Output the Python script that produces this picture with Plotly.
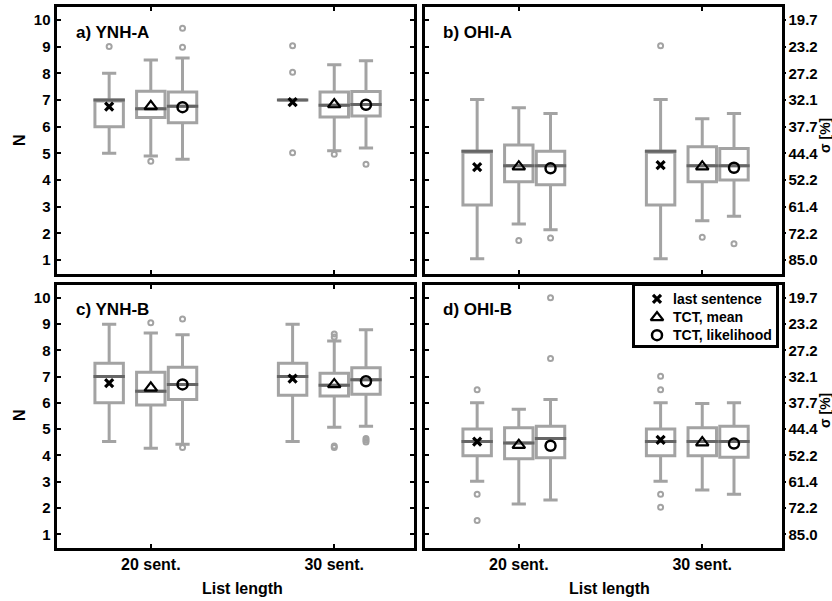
import plotly.graph_objects as go

# ---- data -------------------------------------------------------------
GROUPS = ["20 sent.", "30 sent."]
METHODS = ["last sentence", "TCT, mean", "TCT, likelihood"]
PANEL_TITLES = ["a) YNH-A", "b) OHI-A", "c) YNH-B", "d) OHI-B"]
N_TICKS = [1, 2, 3, 4, 5, 6, 7, 8, 9, 10]
SIGMA_LABELS = ["85.0", "72.2", "61.4", "52.2", "44.4",
                "37.7", "32.1", "27.2", "23.2", "19.7"]

# one row per panel; inside a row: 20 sent. (last, mean, lik), 30 sent. (last, mean, lik)
Q1 = [
    [6.00, 6.34, 6.15, 7.00, 6.36, 6.40],
    [3.07, 3.94, 3.82, 3.07, 3.94, 4.00],
    [6.00, 5.92, 6.13, 6.29, 6.26, 6.33],
    [3.99, 3.87, 3.91, 3.99, 3.99, 3.93],
]
MEDIAN = [
    [7.00, 6.67, 6.76, 7.00, 6.80, 6.83],
    [5.08, 4.54, 4.54, 5.08, 4.54, 4.54],
    [7.00, 6.44, 6.70, 7.00, 6.67, 6.88],
    [4.53, 4.47, 4.64, 4.53, 4.53, 4.53],
]
Q3 = [
    [7.00, 7.33, 7.30, 7.00, 7.30, 7.32],
    [5.08, 5.31, 5.08, 5.08, 5.25, 5.18],
    [7.51, 7.16, 7.35, 7.51, 7.13, 7.33],
    [5.01, 5.05, 5.11, 5.01, 5.05, 5.11],
]
LOWER = [
    [5.00, 4.90, 4.78, 7.00, 5.10, 5.20],
    [1.05, 2.35, 2.14, 1.05, 2.48, 2.64],
    [4.53, 4.27, 4.43, 4.53, 5.07, 5.11],
    [3.02, 2.15, 2.31, 3.02, 2.69, 2.52],
]
UPPER = [
    [8.00, 8.50, 8.57, 7.00, 8.32, 8.47],
    [7.02, 6.71, 6.49, 7.02, 6.30, 6.49],
    [8.99, 8.66, 8.59, 8.99, 8.35, 8.78],
    [6.00, 5.76, 6.13, 6.00, 5.98, 6.00],
]
MEAN = [
    [6.75, 6.76, 6.73, 6.92, 6.83, 6.82],
    [4.48, 4.50, 4.44, 4.56, 4.50, 4.46],
    [6.75, 6.57, 6.70, 6.92, 6.70, 6.82],
    [4.53, 4.39, 4.37, 4.59, 4.49, 4.45],
]
OUTLIERS = [
    [[9.00], [4.70], [9.69, 8.97], [9.03, 8.04, 5.02], [4.97], [4.59]],
    [[], [1.74], [1.83], [9.03], [1.86], [1.61]],
    [[], [9.05], [9.19, 4.30], [], [8.62, 8.50, 4.36, 4.30], [4.64, 4.51, 4.58]],
    [[6.50, 2.52, 1.53], [], [10.00, 7.69], [7.01, 6.50, 2.52, 2.03], [], []],
]

# ---- styling ------------------------------------------------------------
FONT = "Liberation Sans, Arial, sans-serif"
BOX_GRAY = "#a3a3a3"
MED_GRAY = "#666666"
GROUP_POS = [1, 2]
METHOD_OFFSET = [-0.227, 0.0, 0.173]
BOX_W = 0.155
MARKERS = [
    dict(symbol="x-thin-open", size=8, color="black", line=dict(width=3.2, color="black")),
    dict(symbol="triangle-up-open", size=11, color="black", line=dict(width=2.2, color="black")),
    dict(symbol="circle-open", size=10, color="black", line=dict(width=2.5, color="black")),
]

W, H = 832, 601
X_DOM = [[56.5 / W, 413.5 / W], [424.5 / W, 781.5 / W]]
Y_DOM = [[1 - 273.5 / H, 1 - 6.5 / H], [1 - 547.5 / H, 1 - 284.5 / H]]
X_RANGE = [0.486, 2.432]
Y_RANGE = [0.5, 10.5]

fig = go.Figure()

positions = [g + o for g in GROUP_POS for o in METHOD_OFFSET]

for p in range(4):
    xa = "x" if p == 0 else f"x{p + 1}"
    ya = "y" if p == 0 else f"y{p + 1}"

    fig.add_trace(go.Box(
        x=positions, q1=Q1[p], median=MEDIAN[p], q3=Q3[p],
        lowerfence=LOWER[p], upperfence=UPPER[p],
        width=BOX_W, whiskerwidth=0.5, fillcolor="white",
        line=dict(color=BOX_GRAY, width=3), boxpoints=False,
        hoverinfo="skip", xaxis=xa, yaxis=ya,
    ))

    # darker median bars
    mx, my = [], []
    for xpos, m in zip(positions, MEDIAN[p]):
        mx += [xpos - BOX_W / 2 - 0.008, xpos + BOX_W / 2 + 0.008, None]
        my += [m, m, None]
    fig.add_trace(go.Scatter(
        x=mx, y=my, mode="lines", line=dict(color=MED_GRAY, width=3),
        hoverinfo="skip", xaxis=xa, yaxis=ya,
    ))

    # outliers
    ox, oy = [], []
    for xpos, vals in zip(positions, OUTLIERS[p]):
        ox += [xpos] * len(vals)
        oy += vals
    fig.add_trace(go.Scatter(
        x=ox, y=oy, mode="markers",
        marker=dict(symbol="circle-open", size=5, color=BOX_GRAY,
                    line=dict(width=2, color=BOX_GRAY)),
        hoverinfo="skip", xaxis=xa, yaxis=ya,
    ))

    # central markers per method
    for k, name in enumerate(METHODS):
        idx = [k, k + 3]
        fig.add_trace(go.Scatter(
            x=[positions[i] for i in idx], y=[MEAN[p][i] for i in idx],
            mode="markers", name=name, marker=MARKERS[k],
            xaxis=xa, yaxis=ya,
        ))

# empty traces so the right-hand sigma axes are drawn
for ya, xa in (("y5", "x2"), ("y6", "x4")):
    fig.add_trace(go.Scatter(x=[None], y=[None], mode="markers",
                             hoverinfo="skip", xaxis=xa, yaxis=ya))

# legend box drawn as a small subplot on top of panel d
LEG_ROWS = [13, 32, 50]
fig.add_trace(go.Scatter(x=[None], y=[None], xaxis="x5", yaxis="y7", hoverinfo="skip"))
for k in range(3):
    fig.add_trace(go.Scatter(
        x=[22], y=[LEG_ROWS[k]], mode="markers", marker=MARKERS[k],
        hoverinfo="skip", xaxis="x5", yaxis="y7",
    ))

xtickfont = dict(family=FONT, size=16, color="black", weight="bold")
ytickfont = dict(family=FONT, size=15, color="black", weight="bold")
frame = dict(showline=True, linewidth=3, linecolor="black", showgrid=False,
             zeroline=False)

layout = dict(
    width=W, height=H, margin=dict(l=0, r=0, t=0, b=0),
    paper_bgcolor="white", plot_bgcolor="white",
    font=dict(family=FONT, color="black"),
    showlegend=False,
)

for p in range(4):
    col, row = p % 2, p // 2
    xname = "xaxis" if p == 0 else f"xaxis{p + 1}"
    yname = "yaxis" if p == 0 else f"yaxis{p + 1}"
    xa = "x" if p == 0 else f"x{p + 1}"
    ya = "y" if p == 0 else f"y{p + 1}"
    layout[xname] = dict(
        domain=X_DOM[col], anchor=ya, range=X_RANGE,
        tickvals=GROUP_POS, ticktext=GROUPS, showticklabels=(row == 1),
        ticks="inside", ticklen=4, tickwidth=2, tickcolor="black",
        mirror="ticks", tickfont=xtickfont, **frame,
    )
    layout[yname] = dict(
        domain=Y_DOM[row], anchor=xa, range=Y_RANGE,
        tickvals=N_TICKS, ticktext=[str(v) for v in N_TICKS],
        showticklabels=(col == 0),
        ticks="inside", ticklen=4, tickwidth=2, tickcolor="black",
        mirror=("ticks" if col == 0 else True), tickfont=ytickfont, **frame,
    )

for yname, base, xa in (("yaxis5", "y2", "x2"), ("yaxis6", "y4", "x4")):
    layout[yname] = dict(
        overlaying=base, anchor=xa, side="right", range=Y_RANGE,
        tickvals=N_TICKS, ticktext=SIGMA_LABELS,
        ticks="outside", ticklen=3, tickwidth=2, tickcolor="black",
        showline=False, showgrid=False, zeroline=False, tickfont=ytickfont,
    )

# legend frame
layout["xaxis5"] = dict(domain=[635 / W, 776 / W], anchor="y7", range=[0, 141],
                        showline=True, linewidth=2.5, linecolor="black", mirror=True,
                        showticklabels=False, ticks="", showgrid=False, zeroline=False,
                        fixedrange=True)
layout["yaxis7"] = dict(domain=[1 - 345 / H, 1 - 286 / H], anchor="x5", range=[60, 0],
                        showline=True, linewidth=2.5, linecolor="black", mirror=True,
                        showticklabels=False, ticks="", showgrid=False, zeroline=False,
                        fixedrange=True)

fig.update_layout(**layout)

# panel captions, legend texts and axis titles
ann = []
for p, title in enumerate(PANEL_TITLES):
    col, row = p % 2, p // 2
    ann.append(dict(text=f"<b>{title}</b>", xref="paper", yref="paper",
                    x=(74 if col == 0 else 441) / W,
                    y=1 - (33 if row == 0 else 309) / H,
                    xanchor="left", yanchor="middle", showarrow=False,
                    font=dict(family=FONT, size=17, color="black")))
for k, name in enumerate(METHODS):
    ann.append(dict(text=f"<b>{name}</b>", xref="x5", yref="y7", x=36, y=LEG_ROWS[k],
                    xanchor="left", yanchor="middle", showarrow=False,
                    font=dict(family=FONT, size=14, color="black")))
for yc in (140, 415):
    ann.append(dict(text="<b>N</b>", xref="paper", yref="paper",
                    x=19 / W, y=1 - yc / H, textangle=-90, showarrow=False,
                    xanchor="center", yanchor="middle",
                    font=dict(family=FONT, size=16, color="black")))
    ann.append(dict(text="<b>σ [%]</b>", xref="paper", yref="paper",
                    x=825 / W, y=1 - (yc - 4) / H, textangle=-90, showarrow=False,
                    xanchor="center", yanchor="middle",
                    font=dict(family=FONT, size=14, color="black")))
for xc in (242, 609):
    ann.append(dict(text="<b>List length</b>", xref="paper", yref="paper",
                    x=xc / W, y=1 - 588 / H, showarrow=False,
                    xanchor="center", yanchor="middle",
                    font=dict(family=FONT, size=16, color="black")))
fig.update_layout(annotations=ann)

fig.write_html("out.html")
